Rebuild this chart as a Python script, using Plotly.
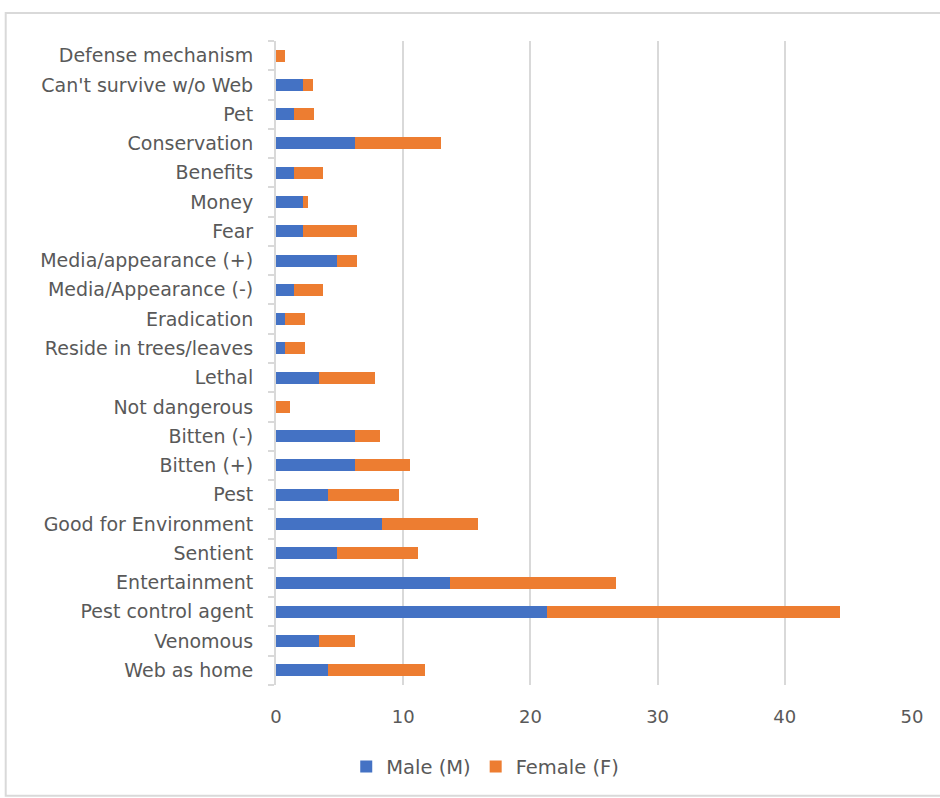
import plotly.graph_objects as go

# Response categories, listed bottom-to-top as they appear on the axis
categories = [
    "Web as home", "Venomous", "Pest control agent", "Entertainment",
    "Sentient", "Good for Environment", "Pest", "Bitten (+)", "Bitten (-)",
    "Not dangerous", "Lethal", "Reside in trees/leaves", "Eradication",
    "Media/Appearance (-)", "Media/appearance (+)", "Fear", "Money",
    "Benefits", "Conservation", "Pet", "Can't survive w/o Web",
    "Defense mechanism",
]

male = [4.1, 3.4, 21.3, 13.7, 4.8, 8.3, 4.1, 6.2, 6.2,
        0.0, 3.4, 0.7, 0.7,
        1.4, 4.8, 2.1, 2.1,
        1.4, 6.2, 1.4, 2.1,
        0.0]

female = [7.6, 2.8, 23.0, 13.0, 6.4, 7.6, 5.6, 4.3, 2.0,
          1.1, 4.4, 1.6, 1.6,
          2.3, 1.6, 4.3, 0.4,
          2.3, 6.8, 1.6, 0.8,
          0.7]

x_ticks = [0, 10, 20, 30, 40, 50]

BLUE = "#4472C4"
ORANGE = "#ED7D31"
GRID = "#D9D9D9"
TEXT = "#595959"
FONT = "DejaVu Sans"

fig = go.Figure()
fig.add_trace(go.Bar(y=categories, x=male, orientation="h", name="Male (M)",
                     marker=dict(color=BLUE, line=dict(width=0))))
fig.add_trace(go.Bar(y=categories, x=female, orientation="h", name="Female (F)",
                     marker=dict(color=ORANGE, line=dict(width=0))))

# Outer chart frame
fig.add_shape(type="rect", xref="paper", yref="paper",
              x0=-0.425, x1=1.06, y0=-0.172, y1=1.0435,
              line=dict(color=GRID, width=2), layer="below")

fig.update_layout(
    barmode="stack",
    bargap=0.59,
    width=940, height=798,
    margin=dict(l=275.5, r=28, t=41, b=113),
    paper_bgcolor="white",
    plot_bgcolor="white",
    font=dict(family=FONT, size=18, color=TEXT),
    showlegend=True,
    legend=dict(orientation="h", x=0.329, xanchor="center", y=-0.127,
                yanchor="middle", font=dict(family=FONT, size=19.5, color=TEXT),
                traceorder="normal"),
    xaxis=dict(range=[0, 50], tickvals=x_ticks, showgrid=True,
               gridcolor=GRID, gridwidth=2, zeroline=False, showline=False,
               ticks="", ticklabelstandoff=19, fixedrange=True,
               tickfont=dict(family=FONT, size=18, color=TEXT)),
    yaxis=dict(showgrid=False, showline=True, linecolor=GRID, linewidth=2,
               ticks="outside", ticklen=6, tickcolor=GRID, tickwidth=2,
               tickson="boundaries", ticklabelstandoff=17,
               tickfont=dict(family=FONT, size=19, color=TEXT),
               categoryorder="array", categoryarray=categories),
)

fig.write_html("out.html")
